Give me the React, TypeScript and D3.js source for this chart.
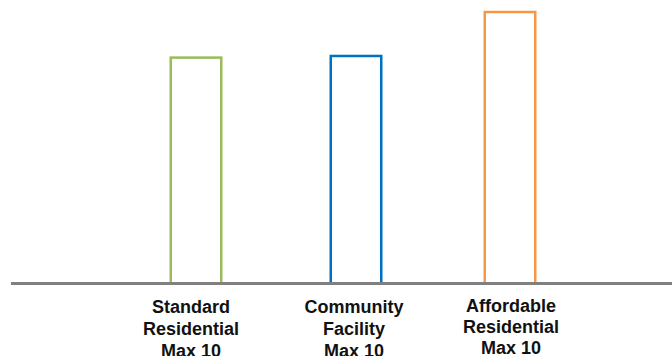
import React from "react";
import * as d3 from "d3";

const categories = ["Standard Residential", "Community Facility", "Affordable Residential"];
const labelLines = [
  ["Standard", "Residential", "Max 10"],
  ["Community", "Facility", "Max 10"],
  ["Affordable", "Residential", "Max 10"],
];
const values = [8.32, 8.38, 10];
const colors = ["#9bbb59", "#0070c0", "#f79646"];

const W = 672;
const H = 356;

export default function App() {
  const x = d3.scaleOrdinal<string, number>().domain(categories).range([196, 356, 510]);
  const y = d3.scaleLinear().domain([0, 10]).range([283.5, 12]);
  const barW = 50.5;
  const labelDx = [-5, -2, 1];
  return (
    <svg
      width={W}
      height={H}
      style={{ position: "absolute", left: 0, top: 0, display: "block", background: "#fff" }}
      fontFamily="'Liberation Sans', Arial, sans-serif"
    >
      {categories.map((c, i) => (
        <rect
          key={c}
          x={x(c) - barW / 2}
          y={y(values[i])}
          width={barW}
          height={y(0) - y(values[i])}
          fill="none"
          stroke={colors[i]}
          strokeWidth={2.5}
        />
      ))}
      <line x1={11} x2={W} y1={y(0)} y2={y(0)} stroke="#808080" strokeWidth={3} />
      {categories.map((c, i) => (
        <text key={c + "l"} textAnchor="middle" fontSize={18} fontWeight="bold" fill="#111">
          {labelLines[i].map((t, j) => (
            <tspan
              key={j}
              x={x(c) + labelDx[i]}
              y={(i === 2 ? 311.5 : 313) + j * (i === 2 ? 21 : 22)}
            >
              {t}
            </tspan>
          ))}
        </text>
      ))}
    </svg>
  );
}
